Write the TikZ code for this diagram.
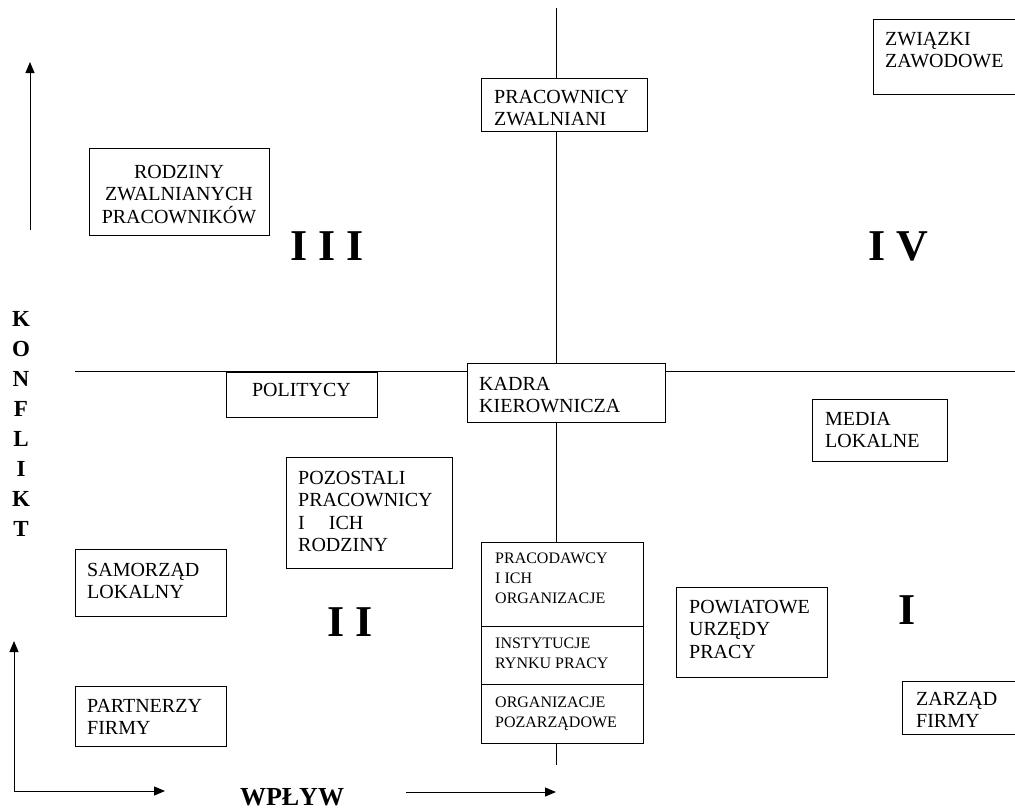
\documentclass[tikz,border=0pt]{standalone}
\usepackage{fontspec}
\setmainfont{Liberation Serif}
\usetikzlibrary{arrows.meta}
\begin{document}
\begin{tikzpicture}[x=1pt,y=-1pt,
  bx/.style={draw,line width=1pt,fill=white,anchor=north west,inner sep=0pt,outer sep=0pt},
  txt/.style={anchor=north west,align=left,inner sep=0pt,font=\fontsize{20}{22.5}\selectfont},
  ctxt/.style={anchor=north,align=center,inner sep=0pt,font=\fontsize{20}{22.5}\selectfont},
  stxt/.style={anchor=north west,align=left,inner sep=0pt,font=\fontsize{16}{20}\selectfont},
  roman/.style={inner sep=0pt,font=\fontsize{44}{44}\selectfont\bfseries},
  axisline/.style={line width=1pt},
  arr/.style={line width=1pt,-{Triangle[length=11pt,width=9pt]}}]
\useasboundingbox (0,0) rectangle (1015,809);
% axes
\coordinate (vtop) at (556,8);
\coordinate (vbot) at (556,765);
\coordinate (hl) at (75,371);
\coordinate (hr) at (1015,371);
\draw[axisline] (vtop) -- (vbot);
\draw[axisline] (hl) -- (hr);
% boxes
\node[bx,minimum width=166,minimum height=53] (prac) at (481,78) {};
\node[txt] (pract) at ([xshift=13,yshift=-12]prac.north west) {PRACOWNICY\\ZWALNIANI};
\node[bx,minimum width=160,minimum height=75] (zw) at (873,19) {};
\node[txt] (zwt) at ([xshift=12,yshift=-13]zw.north west) {ZWIĄZKI\\ZAWODOWE};
\node[bx,minimum width=180,minimum height=87] (rodz) at (89,148) {};
\node[ctxt] (rodzt) at ([yshift=-17]rodz.north) {RODZINY\\ZWALNIANYCH\\PRACOWNIKÓW};
\node[bx,minimum width=151,minimum height=45] (pol) at (226,372) {};
\node[ctxt] (polt) at ([yshift=-11]pol.north) {POLITYCY};
\node[bx,minimum width=198,minimum height=59] (kadra) at (467,363) {};
\node[txt] (kadrat) at ([xshift=12,yshift=-14]kadra.north west) {KADRA\\KIEROWNICZA};
\node[bx,minimum width=135,minimum height=62] (media) at (812,399) {};
\node[txt] (mediat) at ([xshift=13,yshift=-13]media.north west) {MEDIA\\LOKALNE};
\node[bx,minimum width=166,minimum height=111] (poz) at (286,457) {};
\node[txt] (pozt) at ([xshift=12,yshift=-14]poz.north west) {POZOSTALI\\PRACOWNICY\\I\hspace{1.2em}ICH\\RODZINY};
\node[bx,minimum width=151,minimum height=67] (sam) at (75,549) {};
\node[txt] (samt) at ([xshift=12,yshift=-14]sam.north west) {SAMORZĄD\\LOKALNY};
\node[bx,minimum width=162,minimum height=84] (s1) at (481,542) {};
\node[stxt] (s1t) at ([xshift=14,yshift=-11]s1.north west) {PRACODAWCY\\I ICH\\ORGANIZACJE};
\node[bx,minimum width=162,minimum height=58] (s2) at (481,626) {};
\node[stxt] (s2t) at ([xshift=14,yshift=-12]s2.north west) {INSTYTUCJE\\RYNKU PRACY};
\node[bx,minimum width=162,minimum height=59] (s3) at (481,684) {};
\node[stxt] (s3t) at ([xshift=14,yshift=-13]s3.north west) {ORGANIZACJE\\POZARZĄDOWE};
\node[bx,minimum width=151,minimum height=90] (pow) at (676,587) {};
\node[txt] (powt) at ([xshift=13,yshift=-13]pow.north west) {POWIATOWE\\URZĘDY\\PRACY};
\node[bx,minimum width=130,minimum height=53] (zarz) at (902,681) {};
\node[txt] (zarzt) at ([xshift=14,yshift=-11]zarz.north west) {ZARZĄD\\FIRMY};
\node[bx,minimum width=151,minimum height=60] (part) at (75,686) {};
\node[txt] (partt) at ([xshift=12,yshift=-13]part.north west) {PARTNERZY\\FIRMY};
% quadrant numerals
\node[roman] (q3) at (327,246) {I I I};
\node[roman] (q4) at (898,246) {I V};
\node[roman] (q2) at (350,622) {I I};
\node[roman] (q1) at (907,610) {I};
% axis labels
\node[anchor=north,align=center,inner sep=0pt,font=\fontsize{23}{30}\selectfont\bfseries] (konf) at (21,311) {K\\O\\N\\F\\L\\I\\K\\T};
\node[anchor=base,inner sep=0pt,font=\fontsize{26}{26}\selectfont\bfseries] (wplyw) at (292,805) {WPŁYW};
% arrows
\coordinate (a1s) at (30,230);
\coordinate (a1e) at (30,62);
\draw[arr] (a1s) -- (a1e);
\coordinate (corner) at (14,791);
\coordinate (upend) at (14,641);
\coordinate (rtend) at (165,791);
\draw[arr] (corner) -- (upend);
\draw[arr] (corner) -- (rtend);
\coordinate (a2s) at (406,792);
\coordinate (a2e) at (556,792);
\draw[arr] (a2s) -- (a2e);
\end{tikzpicture}
\end{document}
